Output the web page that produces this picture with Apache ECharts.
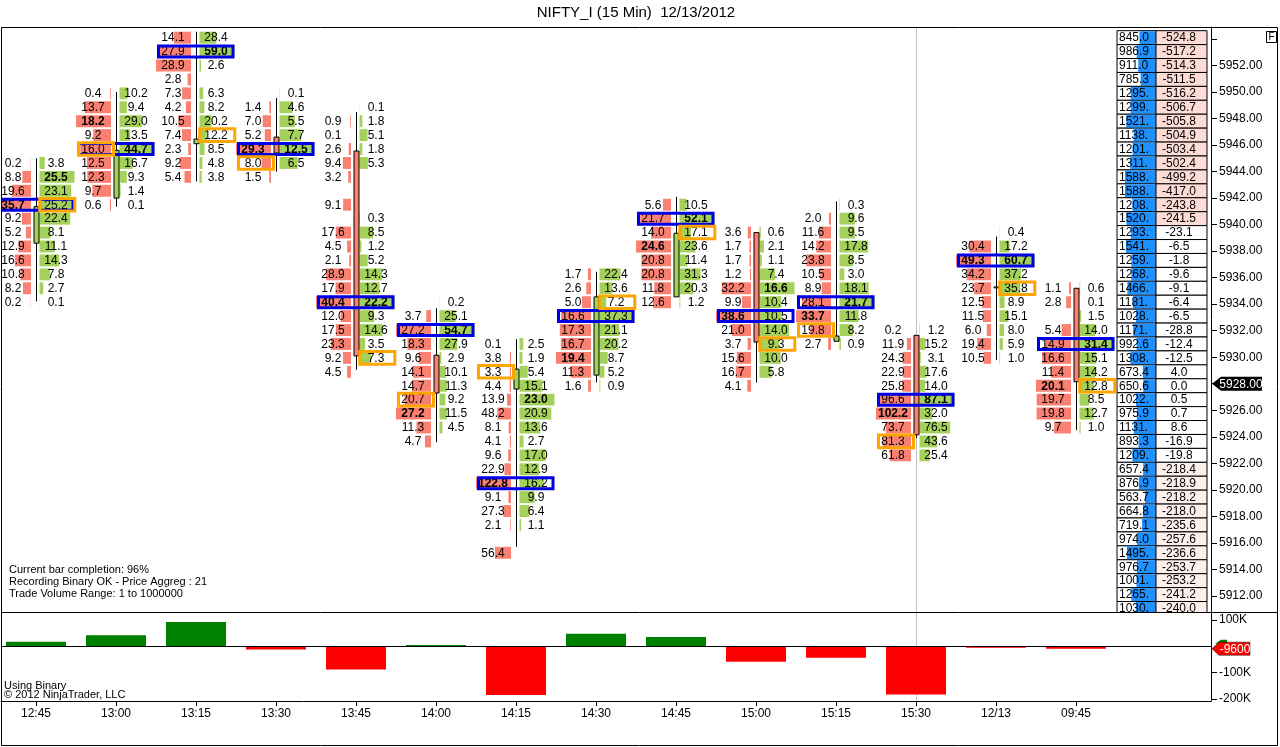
<!DOCTYPE html>
<html>
<head>
<meta charset="utf-8">
<title>NIFTY_I footprint</title>
<script src="https://cdn.jsdelivr.net/npm/echarts@6.0.0/dist/echarts.min.js"></script>
<style>
  html, body { margin: 0; padding: 0; background: #fff; }
  #chart { width: 1280px; height: 747px; }
</style>
</head>
<body>
<div id="chart"></div>
<script>
// ---- data ----
const timeLabels = ['12:45','13:00','13:15','13:30','13:45','14:00','14:15','14:30','14:45','15:00','15:15','15:30','12/13','09:45'];

const ROW_STEP = 1.05; // price aggreg 21 x 0.05

// price of the top footprint row of every bar
const rowTop = [5944.65, 5949.90, 5954.10, 5949.90, 5948.85, 5934.15, 5931.00, 5936.25, 5941.50, 5939.40, 5941.50, 5932.05, 5939.40, 5935.20];

// bid / ask volume per row, top row first (null = empty cell)
const bidVolumes = [
  [0.2, 8.8, 19.6, 35.7, 9.2, 5.2, 12.9, 16.6, 10.8, 8.2, 0.2],
  [0.4, 13.7, 18.2, 9.2, 16.0, 12.5, 12.3, 9.7, 0.6],
  [14.1, 27.9, 28.9, 2.8, 7.3, 4.2, 10.5, 7.4, 2.3, 9.2, 5.4],
  [null, 1.4, 7.0, 5.2, 29.3, 8.0, 1.5],
  [null, 0.9, 0.1, 2.6, 9.4, 3.2, null, 9.1, null, 17.6, 4.5, 2.1, 28.9, 17.9, 40.4, 12.0, 17.5, 23.3, 9.2, 4.5],
  [null, 3.7, 27.2, 18.3, 9.6, 14.1, 14.7, 20.7, 27.2, 11.3, 4.7],
  [0.1, 3.8, 3.3, 4.4, 13.9, 48.2, 8.1, 4.1, 9.6, 22.9, 122.8, 9.1, 27.3, 2.1, null, 56.4],
  [1.7, 2.6, 5.0, 16.6, 17.3, 16.7, 19.4, 11.3, 1.6],
  [5.6, 21.7, 14.0, 24.6, 20.8, 20.8, 11.8, 12.6],
  [3.6, 1.7, 1.7, 1.2, 32.2, 9.9, 38.6, 21.0, 3.7, 15.6, 16.7, 4.1],
  [null, 2.0, 11.6, 14.2, 23.8, 10.5, 8.9, 28.1, 33.7, 19.8, 2.7],
  [0.2, 11.9, 24.3, 22.9, 25.8, 96.6, 102.2, 73.7, 81.3, 61.8],
  [null, 30.4, 49.3, 34.2, 23.7, 12.5, 11.5, 6.0, 19.4, 10.5],
  [1.1, 2.8, null, 5.4, 14.9, 16.6, 11.4, 20.1, 19.7, 19.8, 9.7]
];
const askVolumes = [
  [3.8, 25.5, 23.1, 25.2, 22.4, 8.1, 11.1, 14.3, 7.8, 2.7, 0.1],
  [10.2, 9.4, 29.0, 13.5, 44.7, 16.7, 9.3, 1.4, 0.1],
  [28.4, 59.0, 2.6, null, 6.3, 8.2, 20.2, 12.2, 8.5, 4.8, 3.8],
  [0.1, 4.6, 5.5, 7.7, 12.5, 6.5, null],
  [0.1, 1.8, 5.1, 1.8, 5.3, null, null, null, 0.3, 8.5, 1.2, 5.2, 14.3, 12.7, 22.2, 9.3, 14.6, 3.5, 7.3, null],
  [0.2, 25.1, 54.7, 27.9, 2.9, 10.1, 11.3, 9.2, 11.5, 4.5, null],
  [2.5, 1.9, 5.4, 15.1, 23.0, 20.9, 13.6, 2.7, 17.0, 12.9, 16.2, 9.9, 6.4, 1.1, null, null],
  [22.4, 13.6, 7.2, 37.3, 21.1, 20.2, 8.7, 5.2, 0.9],
  [10.5, 52.1, 17.1, 23.6, 11.4, 31.3, 20.3, 1.2],
  [0.6, 2.1, 1.1, 7.4, 16.6, 10.4, 10.5, 14.0, 9.3, 10.0, 5.8, null],
  [0.3, 9.6, 9.5, 17.8, 8.5, 3.0, 18.1, 21.7, 11.8, 8.2, 0.9],
  [1.2, 15.2, 3.1, 17.6, 14.0, 87.1, 32.0, 76.5, 43.6, 25.4],
  [0.4, 17.2, 60.7, 37.2, 35.8, 8.9, 15.1, 8.0, 5.9, 1.0],
  [0.6, 0.1, 1.5, 14.0, 31.4, 15.1, 14.2, 12.8, 8.5, 12.7, 1.0]
];

// row offsets (from top row) of the blue POC box, bold cells and orange box
const pocRow     = [3, 4, 1, 4, 14, 2, 10, 3, 1, 6, 7, 5, 2, 4];
const boldBidRow = [3, 2, -1, 4, 14, 8, 10, 6, 3, 6, 8, 6, 2, 7];
const boldAskRow = [1, 4, 1, 4, 14, 2, 4, -1, 1, 4, 7, 5, 2, 4];
const markRow    = [3, 4, 7, 5, 18, 7, 2, 2, 2, 8, 9, 8, 4, 7];
const markSide   = ['ask','bid','ask','bid','ask','bid','bid','ask','ask','ask','bid','bid','ask','ask'];

// candles
const opens  = [5938.6, 5942.0, 5946.1, 5946.6, 5945.55, 5930.15, 5927.6, 5928.65, 5934.55, 5939.4, 5931.2, 5931.65, 5935.3, 5935.2];
const closes = [5941.35, 5945.6, 5946.45, 5945.4, 5930.1, 5927.3, 5929.1, 5934.55, 5939.35, 5931.15, 5931.6, 5924.15, 5935.3, 5928.15];
const lows   = [5934.2, 5941.35, 5943.25, 5944.0, 5929.05, 5923.6, 5915.7, 5928.1, 5934.55, 5928.1, 5931.2, 5923.9, 5929.8, 5924.5];
const highs  = [5945.0, 5950.0, 5954.55, 5949.55, 5948.5, 5933.7, 5931.35, 5936.45, 5942.1, 5939.4, 5941.75, 5931.65, 5939.1, 5935.2];

// delta histogram (bottom panel)
const barDelta = [17000, 42000, 92000, -13000, -89000, 4500, -186000, 47000, 35000, -59000, -44000, -184000, -5700, -9600];

// right-hand price ladder, top row first
const ladderTop = 5954.10;
const ladderVolume = [845.0, 986.9, 911.0, 785.3, 1295, 1299, 1521, 1138, 1201, 1311, 1588, 1588, 1208, 1520, 1293, 1541, 1259, 1268, 1466, 1181, 1028, 1171, 992.6, 1308, 673.4, 650.6, 1022, 975.9, 1131, 893.3, 1209, 657.4, 876.9, 563.7, 664.8, 719.1, 974.0, 1495, 976.7, 1001, 1265, 1030];
const ladderDelta = [-524.8, -517.2, -514.3, -511.5, -516.2, -506.7, -505.8, -504.9, -503.4, -502.4, -499.2, -417.0, -243.8, -241.5, -23.1, -6.5, -1.8, -9.6, -9.1, -6.4, -6.5, -28.8, -12.4, -12.5, 4.0, 0.0, 0.5, 0.7, 8.6, -16.9, -19.8, -218.4, -218.9, -218.2, -218.0, -235.6, -257.6, -236.6, -253.7, -253.2, -241.2, -240.0];

const priceLabels = [5912, 5914, 5916, 5918, 5920, 5922, 5924, 5926, 5928, 5930, 5932, 5934, 5936, 5938, 5940, 5942, 5944, 5946, 5948, 5950, 5952];
const priceTicks = priceLabels.concat([5954]);
const deltaLabels = [100000, -100000, -200000];
const lastPrice = 5928.00;
const crossBar = 11;

// ---- chart ----
const FONT = "'Liberation Sans', Arial, sans-serif";
const SALMON = '#fa8072';
const GREEN = '#a3d15a';
const barIdx = timeLabels.map((t, i) => i);

let  myChart = echarts.init(document.getElementById('chart'));

// footprint cells
let cells = [];
bidVolumes.forEach((bids, i) => {
  const asks = askVolumes[i];
  const maxBid = Math.max(...bids.filter(v => v != null));
  const maxAsk = Math.max(...asks.filter(v => v != null));
  bids.forEach((b, j) => {
    cells.push({
      bar: i, price: rowTop[i] - j * ROW_STEP,
      bid: b, ask: asks[j],
      bBold: boldBidRow[i] === j, aBold: boldAskRow[i] === j,
      maxBid: maxBid, maxAsk: maxAsk
    });
  });
});

let boxes = [];
rowTop.forEach((top, i) => {
  boxes.push({ bar: i, price: top - pocRow[i] * ROW_STEP, kind: 'poc' });
});
rowTop.forEach((top, i) => {
  boxes.push({ bar: i, price: top - markRow[i] * ROW_STEP, kind: markSide[i] });
});

const ladderRows = ladderVolume.map((v, k) => [0, ladderTop - k * ROW_STEP]);
const maxVol = Math.max(...ladderVolume);

function fmtVol(v) {
  return v.toFixed(1).slice(0, 5);
}

function renderCell(params, api) {
  const c = cells[params.dataIndex];
  const p = api.coord([c.bar, c.price]);
  const cx = Math.round(p[0]), cy = p[1];
  const h = api.size([0, ROW_STEP])[1];
  const kids = [];
  if (c.bid != null) {
    const w = c.bid / c.maxBid * 35;
    kids.push({ type: 'rect', shape: { x: cx - 5 - w, y: cy - h / 2 + 1, width: w, height: h - 2 }, style: { fill: SALMON } });
    kids.push({ type: 'text', style: { x: cx - 23, y: cy + 0.5, text: c.bid.toFixed(1), align: 'center', verticalAlign: 'middle',
      font: (c.bBold ? 'bold ' : '') + '12px ' + FONT, fill: '#000' } });
  }
  if (c.ask != null) {
    const w = c.ask / c.maxAsk * 35;
    kids.push({ type: 'rect', shape: { x: cx + 3.5, y: cy - h / 2 + 1, width: w, height: h - 2 }, style: { fill: GREEN } });
    kids.push({ type: 'text', style: { x: cx + 20, y: cy + 0.5, text: c.ask.toFixed(1), align: 'center', verticalAlign: 'middle',
      font: (c.aBold ? 'bold ' : '') + '12px ' + FONT, fill: '#000' } });
  }
  return { type: 'group', children: kids };
}

function renderBox(params, api) {
  const b = boxes[params.dataIndex];
  const p = api.coord([b.bar, b.price]);
  const cx = Math.round(p[0]), cy = p[1];
  if (b.kind === 'poc') {
    return { type: 'rect', shape: { x: cx - 37.5, y: cy - 5.5, width: 74.5, height: 11 },
      style: { fill: 'none', stroke: '#0000e6', lineWidth: 3 } };
  }
  const x0 = b.kind === 'bid' ? cx - 37.5 : cx + 3.8;
  return { type: 'rect', shape: { x: x0, y: cy - 6.3, width: 35, height: 12.6 },
    style: { fill: 'none', stroke: '#ffa500', lineWidth: 3 } };
}

function renderCandle(params, api) {
  const i = api.value(0);
  const pO = api.coord([i, api.value(1)]);
  const pC = api.coord([i, api.value(2)]);
  const pL = api.coord([i, api.value(3)]);
  const pH = api.coord([i, api.value(4)]);
  const x = Math.round(pO[0]) + 0.5;
  const top = Math.min(pO[1], pC[1]);
  const bot = Math.max(pO[1], pC[1]);
  const up = api.value(2) >= api.value(1);
  return { type: 'group', children: [
    { type: 'line', shape: { x1: x, y1: pH[1], x2: x, y2: pL[1] }, style: { stroke: '#000', lineWidth: 1 } },
    { type: 'rect', shape: { x: x - 2.5, y: top, width: 5, height: Math.max(bot - top, 1) },
      style: { fill: up ? GREEN : SALMON, stroke: '#000', lineWidth: 1 } }
  ] };
}

function renderLadder(params, api) {
  const k = params.dataIndex;
  const cy = api.coord([0, ladderRows[k][1]])[1];
  const h = api.size([0, ROW_STEP])[1];
  const R = params.coordSys.x + params.coordSys.width;
  const vx = R - 94, dx = R - 55, dw = 51;
  const d = ladderDelta[k];
  let bg = '#fff';
  if (d < -100) bg = ladderRows[k][1] > lastPrice ? '#fcdcd5' : '#fdefec';
  const bw = ladderVolume[k] / maxVol * 31;
  return { type: 'group', children: [
    { type: 'rect', shape: { x: vx, y: cy - h / 2, width: 39, height: h }, style: { fill: '#fff', stroke: '#000', lineWidth: 1 } },
    { type: 'rect', shape: { x: dx - bw, y: cy - h / 2 + 0.5, width: bw, height: h - 1 }, style: { fill: '#1e90ff' } },
    { type: 'rect', shape: { x: dx, y: cy - h / 2, width: dw, height: h }, style: { fill: bg, stroke: '#000', lineWidth: 1 } },
    { type: 'text', style: { x: vx + 2, y: cy + 0.5, text: fmtVol(ladderVolume[k]), align: 'left', verticalAlign: 'middle', font: '12px ' + FONT, fill: '#000' } },
    { type: 'text', style: { x: dx + 23, y: cy + 0.5, text: d.toFixed(1), align: 'center', verticalAlign: 'middle', font: '12px ' + FONT, fill: '#000' } }
  ] };
}

const xMin = -0.4375, xMax = 14.6875;

myChart.setOption({
  animation: false,
  backgroundColor: '#fff',
  textStyle: { fontFamily: FONT },
  grid: [
    { left: 1, right: 69, top: 27, height: 585 },
    { left: 1, right: 69, top: 612, height: 89 }
  ],
  xAxis: [
    { type: 'value', gridIndex: 0, min: xMin, max: xMax, show: false },
    { type: 'value', gridIndex: 1, min: xMin, max: xMax,
      axisLine: { show: true, onZero: false, lineStyle: { color: '#000' } },
      axisTick: { show: true, customValues: barIdx, length: 5, lineStyle: { color: '#000' } },
      axisLabel: { customValues: barIdx, formatter: v => timeLabels[Math.round(v)], color: '#000', fontSize: 12, margin: 7 },
      splitLine: { show: false } }
  ],
  yAxis: [
    { type: 'value', gridIndex: 0, position: 'right', min: 5910.786, max: 5954.903,
      axisLine: { show: true, onZero: false, lineStyle: { color: '#000' } },
      axisTick: { show: true, customValues: priceTicks, length: 6, lineStyle: { color: '#000' } },
      axisLabel: { customValues: priceLabels, formatter: v => v.toFixed(2), color: '#000', fontSize: 12, margin: 8 },
      splitLine: { show: false } },
    { type: 'value', gridIndex: 1, position: 'right', min: -208400, max: 130000,
      axisLine: { show: true, onZero: false, lineStyle: { color: '#000' } },
      axisTick: { show: true, customValues: deltaLabels, length: 6, lineStyle: { color: '#000' } },
      axisLabel: { customValues: deltaLabels, formatter: v => (v / 1000) + 'K', color: '#000', fontSize: 12, margin: 8 },
      splitLine: { show: false } }
  ],
  series: [
    { type: 'custom', name: 'ladder', xAxisIndex: 0, yAxisIndex: 0, clip: true, z: 2,
      renderItem: renderLadder, data: ladderRows },
    { type: 'custom', name: 'footprint', xAxisIndex: 0, yAxisIndex: 0, clip: true, z: 3,
      renderItem: renderCell, data: cells.map(c => [c.bar, c.price]) },
    { type: 'custom', name: 'candles', xAxisIndex: 0, yAxisIndex: 0, clip: true, z: 4,
      renderItem: renderCandle,
      data: barIdx.map(i => [i, opens[i], closes[i], lows[i], highs[i]]) },
    { type: 'custom', name: 'boxes', xAxisIndex: 0, yAxisIndex: 0, clip: true, z: 5,
      renderItem: renderBox, data: boxes.map(b => [b.bar, b.price]) },
    { type: 'bar', name: 'delta', xAxisIndex: 1, yAxisIndex: 1, barWidth: 60,
      data: barDelta.map((v, i) => ({ value: [i, v], itemStyle: { color: v >= 0 ? '#008000' : '#ff0000' } })) }
  ]
});

// overlay bits positioned through the axes
const crossX = Math.round(myChart.convertToPixel({ xAxisIndex: 0 }, crossBar)) + 0.5;
const zeroY = Math.round(myChart.convertToPixel({ yAxisIndex: 1 }, 0)) + 0.5;
const tagY = myChart.convertToPixel({ yAxisIndex: 0 }, lastPrice);
const lastDelta = barDelta[barDelta.length - 1];
const dTagY = myChart.convertToPixel({ yAxisIndex: 1 }, lastDelta);
const infoFont = '11px ' + FONT;

myChart.setOption({
  graphic: { elements: [
    { type: 'text', z: 100, style: { x: 636, y: 13, text: 'NIFTY_I (15 Min)  12/13/2012', align: 'center', verticalAlign: 'middle', font: '15px ' + FONT, fill: '#000' } },
    { type: 'line', z: 0, shape: { x1: crossX, y1: 27, x2: crossX, y2: 701 }, style: { stroke: '#c0c0c0', lineWidth: 1 } },
    { type: 'line', z: 100, shape: { x1: 1, y1: zeroY, x2: 1211, y2: zeroY }, style: { stroke: '#000', lineWidth: 1 } },
    { type: 'rect', z: 100, shape: { x: 1.5, y: 27.5, width: 1276, height: 718 }, style: { fill: 'none', stroke: '#000', lineWidth: 1 } },
    { type: 'line', z: 100, shape: { x1: 1, y1: 612.5, x2: 1278, y2: 612.5 }, style: { stroke: '#000', lineWidth: 1 } },
    { type: 'text', z: 100, style: { x: 9, y: 570, text: 'Current bar completion: 96%', verticalAlign: 'middle', font: infoFont, fill: '#000' } },
    { type: 'text', z: 100, style: { x: 9, y: 582, text: 'Recording Binary OK - Price Aggreg : 21', verticalAlign: 'middle', font: infoFont, fill: '#000' } },
    { type: 'text', z: 100, style: { x: 9, y: 594, text: 'Trade Volume Range: 1 to 1000000', verticalAlign: 'middle', font: infoFont, fill: '#000' } },
    { type: 'text', z: 100, style: { x: 4, y: 686, text: 'Using Binary', verticalAlign: 'middle', font: infoFont, fill: '#000' } },
    { type: 'text', z: 100, style: { x: 4, y: 695, text: '\u00a9 2012 NinjaTrader, LLC', verticalAlign: 'middle', font: infoFont, fill: '#000' } },
    { type: 'rect', z: 100, shape: { x: 1266.5, y: 31.5, width: 10, height: 11 }, style: { fill: '#fff', stroke: '#000', lineWidth: 1 } },
    { type: 'text', z: 101, style: { x: 1271.5, y: 37.5, text: 'F', align: 'center', verticalAlign: 'middle', font: '10px ' + FONT, fill: '#000' } },
    { type: 'polygon', z: 100, shape: { points: [[1212, tagY], [1221, tagY - 7], [1262, tagY - 7], [1262, tagY + 7], [1221, tagY + 7]] }, style: { fill: '#000' } },
    { type: 'text', z: 101, style: { x: 1241, y: tagY + 0.5, text: lastPrice.toFixed(2), align: 'center', verticalAlign: 'middle', font: '12px ' + FONT, fill: '#fff' } },
    { type: 'polygon', z: 100, shape: { points: [[1215, dTagY - 5], [1221, dTagY - 9], [1227, dTagY - 9], [1227, dTagY - 5]] }, style: { fill: '#008000' } },
    { type: 'polygon', z: 100, shape: { points: [[1212, dTagY], [1219, dTagY - 6.5], [1250, dTagY - 6.5], [1250, dTagY + 6.5], [1219, dTagY + 6.5]] }, style: { fill: '#ff0000', stroke: '#000', lineWidth: 0.5 } },
    { type: 'text', z: 101, style: { x: 1235, y: dTagY + 0.5, text: String(lastDelta), align: 'center', verticalAlign: 'middle', font: '12px ' + FONT, fill: '#fff' } }
  ] }
});
</script>
</body>
</html>
